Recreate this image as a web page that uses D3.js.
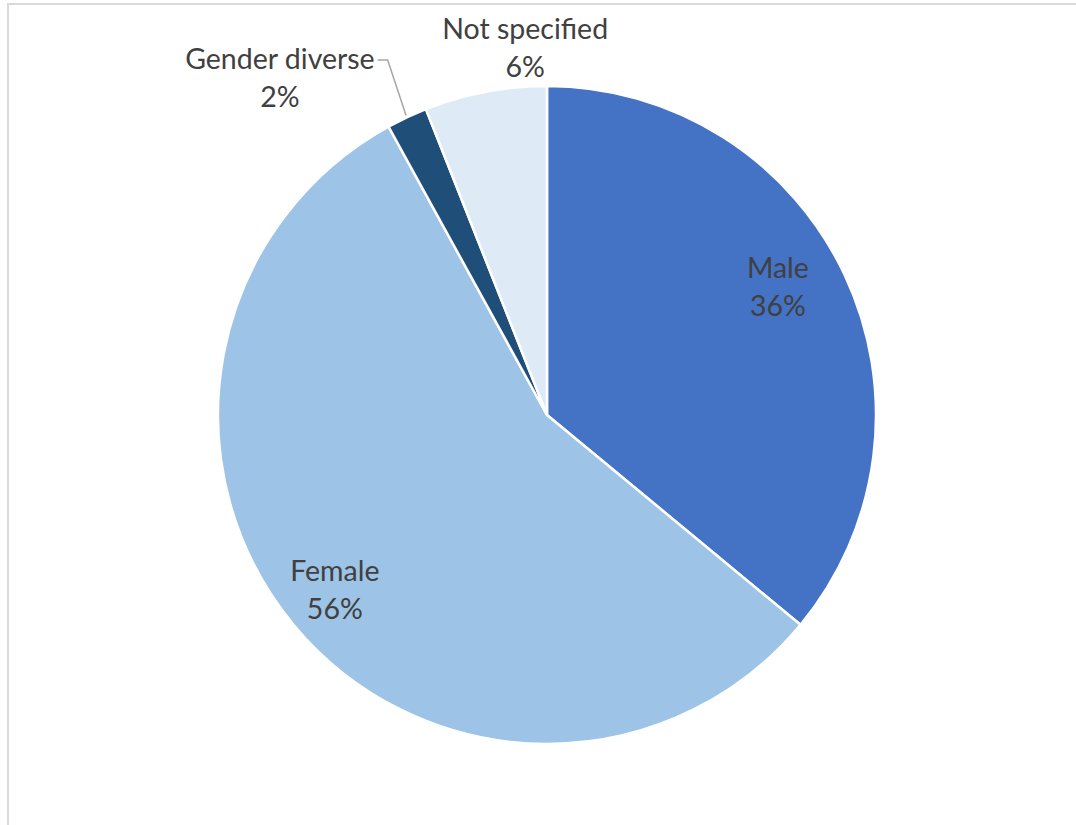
<!DOCTYPE html>
<html>
<head>
<meta charset="utf-8">
<script src="https://cdn.jsdelivr.net/npm/d3@7/dist/d3.min.js"></script>
<style>
  html, body { margin: 0; padding: 0; background: #fff; }
  svg { display: block; }
</style>
</head>
<body>
<svg id="chart" width="1076" height="825"></svg>
<script>
// Respondents by gender (share of total, %)
const categories = ["Male", "Female", "Gender diverse", "Not specified"];
const values = [36, 56, 2, 6];
const labels = ["36%", "56%", "2%", "6%"];
const colors = ["#4472C4", "#9DC3E6", "#1F4E79", "#DEEBF7"];

// Label placement: polar offset from the pie centre (degrees clockwise from 12 o'clock, px)
const labelLayout = [
  { angle: 61, dist: 264, leader: false },
  { angle: 230.5, dist: 275, leader: false },
  { angle: 321.6, dist: 430, leader: true },
  { angle: 356.6, dist: 368, leader: false }
];

const width = 1076, height = 825;
const cx = 547, cy = 415, radius = 329;
const svg = d3.select("#chart");

// chart area frame
svg.append("rect")
  .attr("x", 8).attr("y", 4)
  .attr("width", 1200).attr("height", 1000)
  .attr("fill", "#fff")
  .attr("stroke", "#D9D9D9")
  .attr("stroke-width", 2);

const data = categories.map((c, i) => ({ name: c, value: values[i], label: labels[i], color: colors[i], layout: labelLayout[i] }));

const pie = d3.pie().sort(null).value(d => d.value).startAngle(0).endAngle(2 * Math.PI);
const arc = d3.arc().innerRadius(0).outerRadius(radius);
const arcs = pie(data);

const g = svg.append("g").attr("transform", `translate(${cx},${cy})`);

g.selectAll("path.slice")
  .data(arcs)
  .join("path")
  .attr("class", "slice")
  .attr("d", arc)
  .attr("fill", d => d.data.color)
  .attr("stroke", "#fff")
  .attr("stroke-width", 2.5)
  .attr("stroke-linejoin", "round");

const fontSize = 28.5;
const lineGap = 38;

arcs.forEach(a => {
  const L = a.data.layout;
  const t = L.angle * Math.PI / 180;
  const x = Math.sin(t) * L.dist;
  const y = -Math.cos(t) * L.dist;
  const txt = g.append("text")
    .attr("x", x).attr("y", y)
    .attr("text-anchor", "middle")
    .attr("font-family", "Lato, 'Open Sans', sans-serif")
    .attr("font-size", fontSize)
    .attr("fill", "#404040");
  txt.append("tspan").attr("x", x).attr("dy", -lineGap / 2 + 10).text(a.data.name);
  txt.append("tspan").attr("x", x).attr("dy", lineGap).text(a.data.label);

  if (L.leader) {
    // leader from the end of the category name down to the slice edge
    const bb = txt.node().getBBox();
    const startX = bb.x + bb.width + 3;
    const startY = y - lineGap / 2 + 1;
    const mid = (a.startAngle + a.endAngle) / 2;
    const ex = Math.sin(mid) * (radius + 2);
    const ey = -Math.cos(mid) * (radius + 2);
    g.append("path")
      .attr("d", `M${startX},${startY}H${startX + 10}L${ex},${ey}`)
      .attr("fill", "none")
      .attr("stroke", "#A6A6A6")
      .attr("stroke-width", 1.5);
  }
});
</script>
</body>
</html>
